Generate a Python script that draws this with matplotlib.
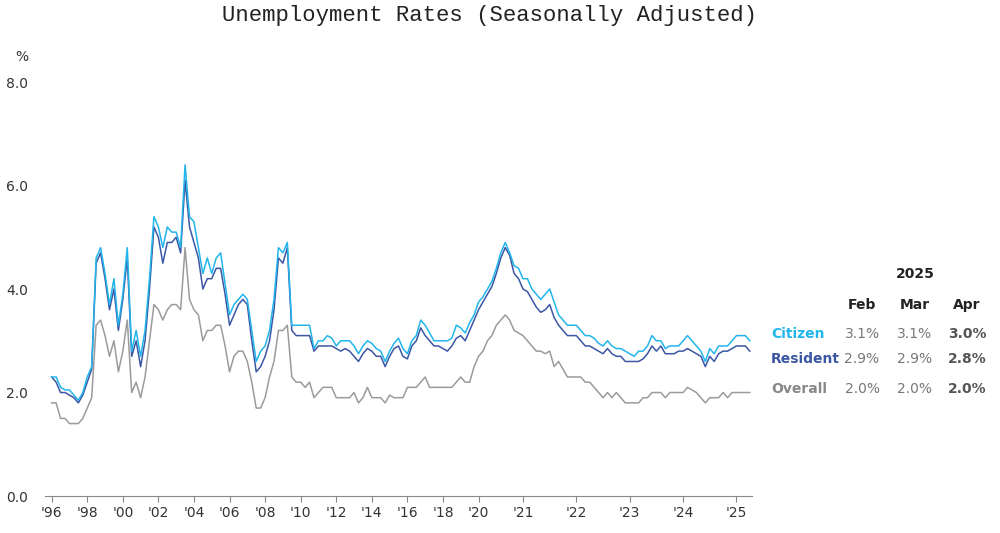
import matplotlib
matplotlib.use("Agg")
import matplotlib.pyplot as plt

# quarterly 1996Q1-2020Q1, then monthly Apr 2020 - Apr 2025
citizen_q = [2.3, 2.3, 2.1, 2.05, 2.05, 1.95, 1.85, 2.0, 2.3, 2.5, 4.6, 4.8,
             4.3, 3.7, 4.2, 3.3, 3.9, 4.8, 2.8, 3.2, 2.7, 3.2, 4.2, 5.4,
             5.2, 4.8, 5.2, 5.1, 5.1, 4.8, 6.4, 5.4, 5.3, 4.8, 4.3, 4.6,
             4.3, 4.6, 4.7, 4.1, 3.5, 3.7, 3.8, 3.9, 3.8, 3.2, 2.6, 2.8,
             2.9, 3.2, 3.8, 4.8, 4.7, 4.9, 3.3,
             3.3, 3.3, 3.3, 3.3, 2.85, 3.0, 3.0, 3.1, 3.05, 2.9, 3.0, 3.0,
             3.0, 2.9, 2.75, 2.9, 3.0, 2.95, 2.85, 2.8, 2.6, 2.8, 2.95, 3.05,
             2.85, 2.75, 3.0, 3.1, 3.4, 3.3, 3.15, 3.0, 3.0, 3.0, 3.0, 3.05,
             3.3, 3.25, 3.15, 3.35, 3.5, 3.75]
citizen_m = [3.85, 4.0, 4.15, 4.4, 4.7, 4.9, 4.7, 4.45, 4.4, 4.2,
             4.2, 4.0, 3.9, 3.8, 3.9, 4.0, 3.75, 3.5, 3.4, 3.3,
             3.3, 3.3, 3.2, 3.1, 3.1, 3.05, 2.95, 2.9, 3.0, 2.9,
             2.85, 2.85, 2.8, 2.75, 2.7, 2.8, 2.8, 2.9, 3.1, 3.0,
             3.0, 2.85, 2.9, 2.9, 2.9, 3.0, 3.1, 3.0, 2.9, 2.8,
             2.6, 2.85, 2.75, 2.9, 2.9, 2.9, 3.0, 3.1, 3.1, 3.1, 3.0]

resident_q = [2.3, 2.2, 2.0, 2.0, 1.95, 1.9, 1.8, 1.95, 2.2, 2.45, 4.5, 4.7,
              4.2, 3.6, 4.0, 3.2, 3.8, 4.6, 2.7, 3.0, 2.5, 3.0, 4.0, 5.2,
              5.0, 4.5, 4.9, 4.9, 5.0, 4.7, 6.1, 5.2, 4.9, 4.6, 4.0, 4.2,
              4.2, 4.4, 4.4, 3.9, 3.3, 3.5, 3.7, 3.8, 3.7, 3.0, 2.4, 2.5,
              2.7, 3.0, 3.6, 4.6, 4.5, 4.8, 3.2,
              3.1, 3.1, 3.1, 3.1, 2.8, 2.9, 2.9, 2.9, 2.9, 2.85, 2.8, 2.85,
              2.8, 2.7, 2.6, 2.75, 2.85, 2.8, 2.7, 2.7, 2.5, 2.7, 2.85, 2.9,
              2.7, 2.65, 2.9, 3.0, 3.25, 3.1, 3.0, 2.9, 2.9, 2.85, 2.8, 2.9,
              3.05, 3.1, 3.0, 3.2, 3.4, 3.6]
resident_m = [3.75, 3.9, 4.05, 4.3, 4.6, 4.8, 4.65, 4.3, 4.2, 4.0,
              3.95, 3.8, 3.65, 3.55, 3.6, 3.7, 3.45, 3.3, 3.2, 3.1,
              3.1, 3.1, 3.0, 2.9, 2.9, 2.85, 2.8, 2.75, 2.85, 2.75,
              2.7, 2.7, 2.6, 2.6, 2.6, 2.6, 2.65, 2.75, 2.9, 2.8,
              2.9, 2.75, 2.75, 2.75, 2.8, 2.8, 2.85, 2.8, 2.75, 2.7,
              2.5, 2.7, 2.6, 2.75, 2.8, 2.8, 2.85, 2.9, 2.9, 2.9, 2.8]

overall_q = [1.8, 1.8, 1.5, 1.5, 1.4, 1.4, 1.4, 1.5, 1.7, 1.9, 3.3, 3.4,
             3.1, 2.7, 3.0, 2.4, 2.8, 3.4, 2.0, 2.2, 1.9, 2.3, 3.0, 3.7,
             3.6, 3.4, 3.6, 3.7, 3.7, 3.6, 4.8, 3.8, 3.6, 3.5, 3.0, 3.2,
             3.2, 3.3, 3.3, 2.9, 2.4, 2.7, 2.8, 2.8, 2.6, 2.2, 1.7, 1.7,
             1.9, 2.3, 2.6, 3.2, 3.2, 3.3, 2.3,
             2.2, 2.2, 2.1, 2.2, 1.9, 2.0, 2.1, 2.1, 2.1, 1.9, 1.9, 1.9,
             1.9, 2.0, 1.8, 1.9, 2.1, 1.9, 1.9, 1.9, 1.8, 1.95, 1.9, 1.9,
             1.9, 2.1, 2.1, 2.1, 2.2, 2.3, 2.1, 2.1, 2.1, 2.1, 2.1, 2.1,
             2.2, 2.3, 2.2, 2.2, 2.5, 2.7]
overall_m = [2.8, 3.0, 3.1, 3.3, 3.4, 3.5, 3.4, 3.2, 3.15, 3.1,
             3.0, 2.9, 2.8, 2.8, 2.75, 2.8, 2.5, 2.6, 2.45, 2.3,
             2.3, 2.3, 2.3, 2.2, 2.2, 2.1, 2.0, 1.9, 2.0, 1.9,
             2.0, 1.9, 1.8, 1.8, 1.8, 1.8, 1.9, 1.9, 2.0, 2.0,
             2.0, 1.9, 2.0, 2.0, 2.0, 2.0, 2.1, 2.05, 2.0, 1.9,
             1.8, 1.9, 1.9, 1.9, 2.0, 1.9, 2.0, 2.0, 2.0, 2.0, 2.0]

tick_years = [1996, 1998, 2000, 2002, 2004, 2006, 2008, 2010, 2012, 2014,
              2016, 2018, 2020, 2021, 2022, 2023, 2024, 2025]
tick_labels = ["'96", "'98", "'00", "'02", "'04", "'06", "'08", "'10", "'12",
               "'14", "'16", "'18", "'20", "'21", "'22", "'23", "'24", "'25"]

months = ["Feb", "Mar", "Apr"]
table = {
    "Citizen": ["3.1%", "3.1%", "3.0%"],
    "Resident": ["2.9%", "2.9%", "2.8%"],
    "Overall": ["2.0%", "2.0%", "2.0%"],
}

colors = {"Citizen": "#22b5ec", "Resident": "#3b56a4", "Overall": "#9b9b9b"}
series = {
    "Overall": overall_q + overall_m,
    "Resident": resident_q + resident_m,
    "Citizen": citizen_q + citizen_m,
}
n_q = len(citizen_q)


def year_pos(y):
    # quarterly index up to 2020Q1, monthly afterwards (Jan of year)
    if y <= 2020:
        return (y - 1996) * 4
    return n_q + (y - 2020) * 12 - 3


fig = plt.figure(figsize=(10, 5.33), dpi=100)
ax = fig.add_axes([0.045, 0.0694, 0.707, 0.7766])

for name, vals in series.items():
    ax.plot(range(len(vals)), vals, color=colors[name], linewidth=1.1)

ax.set_ylim(0, 8)
ax.set_xlim(-1.5, 157.5)
ax.set_yticks([0, 2, 4, 6, 8])
ax.set_yticklabels(["0.0", "2.0", "4.0", "6.0", "8.0"])
ax.set_xticks([year_pos(y) for y in tick_years])
ax.set_xticklabels(tick_labels)
for s in ["top", "right", "left"]:
    ax.spines[s].set_visible(False)
ax.spines["bottom"].set_color("#888888")
ax.tick_params(axis="y", length=0, labelsize=10, labelcolor="#333333", pad=12)
ax.tick_params(axis="x", length=4, color="#888888", labelsize=10,
               labelcolor="#333333")

fig.text(0.015, 0.885, "%", fontsize=10, color="#333333")
fig.text(0.49, 0.97, "Unemployment Rates (Seasonally Adjusted)",
         family="Liberation Mono", fontsize=16, ha="center", va="center",
         color="#222222")

# side table
fig.text(0.915, 0.485, "2025", fontsize=10, weight="bold", ha="center",
         va="center", color="#222222")
col_x = [0.862, 0.915, 0.967]
for x, m in zip(col_x, months):
    fig.text(x, 0.428, m, fontsize=10, weight="bold", ha="center",
             va="center", color="#222222")
row_y = [0.373, 0.327, 0.270]
for y, (name, vals) in zip(row_y, table.items()):
    fig.text(0.771, y, name, fontsize=10, weight="bold", va="center",
             color=colors[name] if name != "Overall" else "#888888")
    for i, (x, v) in enumerate(zip(col_x, vals)):
        fig.text(x, y, v, fontsize=10, ha="center", va="center",
                 color="#777777" if i < 2 else "#555555",
                 weight="bold" if i == 2 else "normal")

fig.savefig("out.png", dpi=100)
